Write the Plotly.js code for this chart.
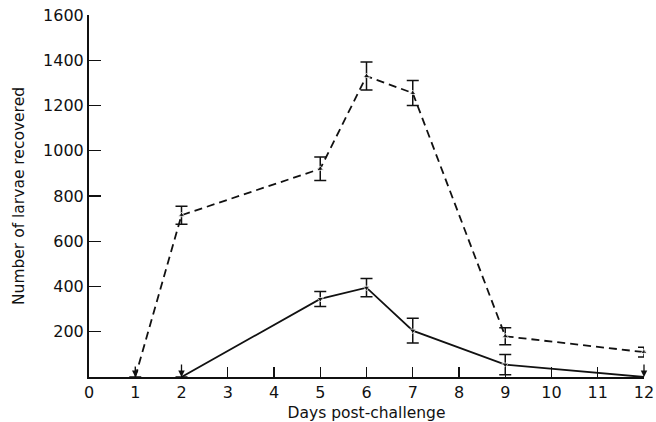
<!DOCTYPE html>
<html><head><meta charset="utf-8">
<script src="https://cdn.plot.ly/plotly-3.0.1.min.js"></script>
<style>body{margin:0;background:#fff}#c{width:656px;height:422px}</style>
</head><body><div id="c"></div>
<script>
const dashedDays = [1, 2, 5, 6, 7, 9, 12];
const dashedVals = [0, 715, 920, 1330, 1255, 180, 110];
const dashedErr = [0, 40, 52, 62, 55, 38, 22];
const solidDays = [2, 5, 6, 7, 9, 12];
const solidVals = [0, 345, 395, 205, 55, 0];
const solidErr = [0, 33, 40, 55, 45, 0];
const xTicks = [0,1,2,3,4,5,6,7,8,9,10,11,12];
const yTicks = [200,400,600,800,1000,1200,1400,1600];

const fam = 'DejaVu Sans, sans-serif';

function markerSymbols(vals, sym){ return vals.map(v => v === 0 ? 'circle' : sym); }
function markerSizes(vals, s){ return vals.map(v => v === 0 ? 0 : s); }

const traces = [
  {x: dashedDays, y: dashedVals, type: 'scatter', mode: 'lines+markers',
   line: {color: '#111', width: 1.8, dash: '8px,5px'},
   marker: {symbol: markerSymbols(dashedVals,'triangle-up'), size: markerSizes(dashedVals,6), color: '#111'},
   error_y: {type: 'data', array: dashedErr, visible: true, color: '#111', thickness: 1.5, width: 6},
   cliponaxis: false, showlegend: false},
  {x: solidDays, y: solidVals, type: 'scatter', mode: 'lines+markers',
   line: {color: '#111', width: 1.8},
   marker: {symbol: markerSymbols(solidVals,'triangle-down'), size: markerSizes(solidVals,6), color: '#111'},
   error_y: {type: 'data', array: solidErr, visible: true, color: '#111', thickness: 1.5, width: 6},
   cliponaxis: false, showlegend: false}
];

const annotations = [];
dashedDays.forEach((d,i) => { if (dashedVals[i] === 0) annotations.push({x: d, y: dashedVals[i], xref:'x', yref:'y', ax: 0, ay: -12, showarrow: true, arrowhead: 2, arrowsize: 1, arrowwidth: 1.3, arrowcolor: '#111', text: ''}); });
solidDays.forEach((d,i) => { if (solidVals[i] === 0) annotations.push({x: d, y: solidVals[i], xref:'x', yref:'y', ax: 0, ay: -14, showarrow: true, arrowhead: 2, arrowsize: 1, arrowwidth: 1.3, arrowcolor: '#111', text: ''}); });

const layout = {
  width: 656, height: 422,
  margin: {l: 89, r: 12, t: 15, b: 45},
  paper_bgcolor: '#fff', plot_bgcolor: '#fff',
  font: {family: fam, color: '#111'},
  xaxis: {range: [0, 12], tickvals: xTicks, ticktext: xTicks.map(String),
    ticks: 'inside', ticklen: 10, tickwidth: 1.3, tickcolor: '#111',
    ticklabeloverflow: 'allow',
    showline: true, linecolor: '#111', linewidth: 2, showgrid: false, zeroline: false,
    tickfont: {size: 16, family: fam, color: '#111'},
    title: {text: 'Days post-challenge', font: {size: 15.5, family: fam, color: '#111'}, standoff: 6}},
  yaxis: {range: [0, 1600], tickvals: yTicks, ticktext: yTicks.map(String),
    ticks: 'inside', ticklen: 12, tickwidth: 1.3, tickcolor: '#111',
    ticklabelstandoff: 0,
    showline: true, linecolor: '#111', linewidth: 2, showgrid: false, zeroline: false,
    tickfont: {size: 16, family: fam, color: '#111'},
    title: {text: 'Number of larvae recovered', font: {size: 15.5, family: fam, color: '#111'}, standoff: 15}},
  annotations: annotations
};
Plotly.newPlot('c', traces, layout, {staticPlot: true, displayModeBar: false});
</script></body></html>
